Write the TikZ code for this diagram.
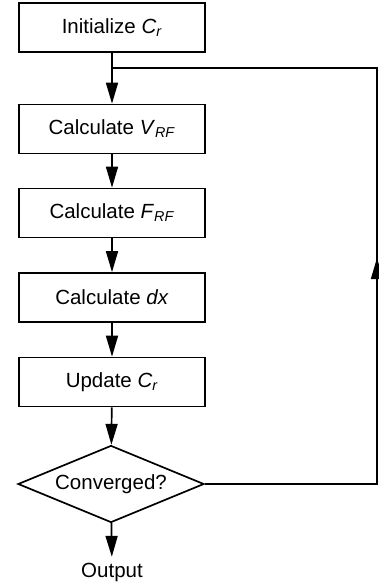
\documentclass[tikz,border=0pt]{standalone}
\usepackage{fontspec}
\setmainfont{Liberation Sans}
\usetikzlibrary{arrows.meta,shapes.geometric}
\newcommand{\itsub}[2]{\textit{#1}\textsubscript{\textit{#2}}}
\begin{document}
\begin{tikzpicture}[x=1pt,y=-1pt,
  line width=1.7pt,
  every node/.style={font=\fontsize{20.5}{24}\selectfont},
  procbox/.style={draw,rectangle,minimum width=186pt,minimum height=49pt,inner sep=0pt},
  decbox/.style={draw,diamond,aspect=2.4,minimum width=186pt,minimum height=77pt,inner sep=0pt},
  arr/.style={-{Triangle[length=21pt,width=12pt]}},
]
\useasboundingbox (0,0) rectangle (378,586);
\node[procbox] (b1) at (112,27.5) {Initialize \itsub{C}{r}};
\node[procbox] (b2) at (112,129) {Calculate \itsub{V}{RF}};
\node[procbox] (b3) at (112,213) {Calculate \itsub{F}{RF}};
\node[procbox] (b4) at (112,297.5) {Calculate \textit{dx}};
\node[procbox] (b5) at (112,382) {Update \itsub{C}{r}};
\node[decbox] (d) at (111,484) {Converged?};
\node[anchor=base,inner sep=5pt] (out) at (112,577) {Output};
\coordinate (j) at (112,68);
\coordinate (rt) at (377,68);
\coordinate (rb) at (377,484);
\coordinate (upa) at (377,258);
\draw[arr] (b1) -- (b2);
\draw[arr] (b2) -- (b3);
\draw[arr] (b3) -- (b4);
\draw[arr] (b4) -- (b5);
\draw[arr] (b5) -- (d);
\draw[arr] (d) -- (out);
\draw (d.east) -- (rb) -- (rt) -- (j);
\draw[arr] (rb) -- (upa);
\end{tikzpicture}
\end{document}
